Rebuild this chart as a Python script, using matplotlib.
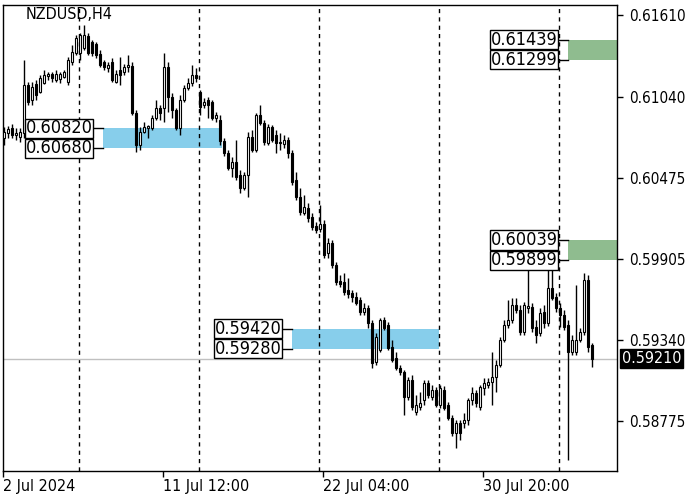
import numpy as np
import matplotlib.pyplot as plt
from matplotlib.patches import Rectangle
import matplotlib.transforms as mtransforms

plt.rcParams['font.family'] = ['DejaVu Sans']
plt.rcParams['font.stretch'] = 'condensed'

symbol = 'NZDUSD,H4'

# H4 candles (oldest first)
opens = [0.60751, 0.60786, 0.60821, 0.60772, 0.60758, 0.60786, 0.61121, 0.61017, 0.61128, 0.61073,
         0.61135, 0.61184, 0.61198, 0.61156, 0.61163, 0.61177, 0.61142, 0.61282, 0.61345, 0.61345,
         0.61380, 0.61464, 0.61422, 0.61408, 0.61338, 0.61282, 0.61240, 0.61282, 0.61142, 0.61226,
         0.61212, 0.61247, 0.61254, 0.60926, 0.60702, 0.60793, 0.60821, 0.60821, 0.60891, 0.60961,
         0.60961, 0.61247, 0.61038, 0.60947, 0.60821, 0.61017, 0.61100, 0.61135, 0.61191, 0.61073,
         0.60982, 0.61017, 0.61003, 0.60891, 0.60877, 0.60730, 0.60647, 0.60542, 0.60584, 0.60493,
         0.60402, 0.60493, 0.60758, 0.60668, 0.60912, 0.60856, 0.60716, 0.60828, 0.60772, 0.60723,
         0.60709, 0.60737, 0.60647, 0.60458, 0.60339, 0.60228, 0.60263, 0.60200, 0.60137, 0.60116,
         0.60151, 0.59948, 0.60018, 0.59864, 0.59753, 0.59746, 0.59690, 0.59669, 0.59641, 0.59620,
         0.59536, 0.59564, 0.59459, 0.59187, 0.59271, 0.59480, 0.59446, 0.59292, 0.59215, 0.59145,
         0.59117, 0.58943, 0.59062, 0.58838, 0.58873, 0.58922, 0.59041, 0.58943, 0.58992, 0.58887,
         0.58992, 0.58887, 0.58796, 0.58691, 0.58761, 0.58761, 0.58782, 0.58922, 0.58971, 0.58873,
         0.59006, 0.59027, 0.59048, 0.59082, 0.59166, 0.59341, 0.59446, 0.59480, 0.59585, 0.59550,
         0.59397, 0.59564, 0.59571, 0.59432, 0.59390, 0.59536, 0.59459, 0.59704, 0.59641, 0.59564,
         0.59515, 0.59446, 0.59257, 0.59257, 0.59341, 0.59397, 0.59760, 0.59306]
highs = [0.60828, 0.60835, 0.60849, 0.60821, 0.60821, 0.61296, 0.61142, 0.61142, 0.61156, 0.61191,
         0.61226, 0.61212, 0.61212, 0.61226, 0.61212, 0.61226, 0.61317, 0.61401, 0.61471, 0.61485,
         0.61540, 0.61485, 0.61436, 0.61422, 0.61366, 0.61296, 0.61282, 0.61310, 0.61226, 0.61317,
         0.61268, 0.61331, 0.61282, 0.60947, 0.60828, 0.60863, 0.60842, 0.60912, 0.61017, 0.60982,
         0.61345, 0.61282, 0.61066, 0.60961, 0.61052, 0.61121, 0.61170, 0.61261, 0.61240, 0.61087,
         0.61031, 0.61038, 0.61017, 0.60933, 0.60912, 0.60751, 0.60668, 0.60619, 0.60737, 0.60528,
         0.60514, 0.60793, 0.60807, 0.60926, 0.60982, 0.60877, 0.60849, 0.60842, 0.60807, 0.60786,
         0.60772, 0.60758, 0.60668, 0.60514, 0.60402, 0.60353, 0.60297, 0.60228, 0.60165, 0.60283,
         0.60179, 0.60053, 0.60039, 0.59885, 0.59795, 0.59809, 0.59774, 0.59690, 0.59676, 0.59641,
         0.59599, 0.59585, 0.59480, 0.59390, 0.59494, 0.59501, 0.59466, 0.59341, 0.59257, 0.59166,
         0.59131, 0.59082, 0.59096, 0.58957, 0.58978, 0.59062, 0.59062, 0.59027, 0.59013, 0.59027,
         0.59020, 0.58908, 0.58817, 0.58782, 0.58782, 0.58831, 0.58936, 0.59013, 0.58992, 0.59027,
         0.59075, 0.59075, 0.59257, 0.59201, 0.59362, 0.59480, 0.59620, 0.59634, 0.59634, 0.59585,
         0.59606, 0.59885, 0.59599, 0.59480, 0.59564, 0.59585, 0.59864, 0.59878, 0.59669, 0.59599,
         0.59550, 0.59480, 0.59376, 0.59725, 0.59425, 0.59809, 0.59795, 0.59320]
lows = [0.60702, 0.60751, 0.60751, 0.60737, 0.60723, 0.60751, 0.60982, 0.60982, 0.61017, 0.61066,
        0.61128, 0.61156, 0.61142, 0.61142, 0.61135, 0.61170, 0.61121, 0.61261, 0.61331, 0.61296,
        0.61366, 0.61331, 0.61324, 0.61310, 0.61247, 0.61226, 0.61212, 0.61142, 0.61135, 0.61121,
        0.61191, 0.61212, 0.60912, 0.60654, 0.60668, 0.60786, 0.60751, 0.60807, 0.60877, 0.60877,
        0.60863, 0.60933, 0.60891, 0.60807, 0.60772, 0.61003, 0.61087, 0.61114, 0.61142, 0.60912,
        0.60961, 0.60891, 0.60877, 0.60863, 0.60702, 0.60626, 0.60528, 0.60479, 0.60458, 0.60367,
        0.60388, 0.60339, 0.60654, 0.60654, 0.60842, 0.60702, 0.60702, 0.60723, 0.60647, 0.60668,
        0.60681, 0.60612, 0.60423, 0.60318, 0.60214, 0.60214, 0.60165, 0.60109, 0.60088, 0.60095,
        0.59913, 0.59913, 0.59844, 0.59725, 0.59711, 0.59655, 0.59634, 0.59606, 0.59585, 0.59515,
        0.59515, 0.59425, 0.59145, 0.59166, 0.59257, 0.59411, 0.59271, 0.59187, 0.59131, 0.59096,
        0.58817, 0.58922, 0.58852, 0.58817, 0.58852, 0.58887, 0.58936, 0.58922, 0.58873, 0.58866,
        0.58852, 0.58782, 0.58670, 0.58587, 0.58643, 0.58726, 0.58747, 0.58887, 0.58873, 0.58852,
        0.58957, 0.59006, 0.58887, 0.58978, 0.59152, 0.59327, 0.59425, 0.59459, 0.59529, 0.59376,
        0.59376, 0.59529, 0.59397, 0.59320, 0.59369, 0.59425, 0.59439, 0.59620, 0.59536, 0.59432,
        0.59411, 0.58503, 0.59236, 0.59236, 0.59327, 0.59376, 0.59257, 0.59152]
closes = [0.60793, 0.60814, 0.60772, 0.60786, 0.60793, 0.61121, 0.61003, 0.61107, 0.61052, 0.61170,
          0.61191, 0.61198, 0.61170, 0.61198, 0.61198, 0.61212, 0.61296, 0.61352, 0.61450, 0.61471,
          0.61471, 0.61345, 0.61345, 0.61331, 0.61261, 0.61247, 0.61261, 0.61156, 0.61198, 0.61191,
          0.61247, 0.61261, 0.60926, 0.60702, 0.60793, 0.60828, 0.60835, 0.60891, 0.60961, 0.60926,
          0.61247, 0.61038, 0.60947, 0.60821, 0.61017, 0.61100, 0.61135, 0.61191, 0.61170, 0.60968,
          0.61003, 0.60982, 0.60891, 0.60912, 0.60730, 0.60647, 0.60542, 0.60584, 0.60479, 0.60402,
          0.60493, 0.60758, 0.60668, 0.60912, 0.60856, 0.60723, 0.60828, 0.60737, 0.60716, 0.60716,
          0.60737, 0.60647, 0.60444, 0.60339, 0.60235, 0.60270, 0.60193, 0.60130, 0.60109, 0.60151,
          0.59934, 0.60018, 0.59864, 0.59746, 0.59732, 0.59676, 0.59662, 0.59641, 0.59599, 0.59536,
          0.59564, 0.59459, 0.59180, 0.59362, 0.59480, 0.59425, 0.59285, 0.59201, 0.59145, 0.59117,
          0.58943, 0.59062, 0.58873, 0.58887, 0.58901, 0.59041, 0.58957, 0.58992, 0.58887, 0.59006,
          0.58866, 0.58796, 0.58691, 0.58761, 0.58691, 0.58782, 0.58922, 0.58971, 0.58901, 0.59013,
          0.59041, 0.59048, 0.59082, 0.59166, 0.59341, 0.59446, 0.59480, 0.59585, 0.59550, 0.59397,
          0.59585, 0.59578, 0.59425, 0.59376, 0.59529, 0.59459, 0.59704, 0.59634, 0.59564, 0.59515,
          0.59432, 0.59257, 0.59341, 0.59341, 0.59397, 0.59760, 0.59292, 0.59210]

x_labels = ['2 Jul 2024', '11 Jul 12:00', '22 Jul 04:00', '30 Jul 20:00']
x_label_bars = [0, 40, 80, 120]
grid_bars = [19, 49, 79, 109, 139]
price_ticks = [0.61610, 0.61040, 0.60475, 0.59905, 0.59340, 0.58775]

# zones: upper / lower price, bar span, colour
zone_upper = [0.60820, 0.59420, 0.61439, 0.60039]
zone_lower = [0.60680, 0.59280, 0.61299, 0.59899]
zone_start = [24.75, 72.0, 141.0, 141.0]
zone_end = [54.5, 108.75, 154.0, 154.0]
zone_colors = ['#87ceeb', '#87ceeb', '#8fbc8f', '#8fbc8f']

fig = plt.figure(figsize=(7, 5), dpi=100)
ax = fig.add_axes([3/700, 29/500, 614/700, 466/500])

o = np.array(opens)
h = np.array(highs)
l = np.array(lows)
c = np.array(closes)
xs = np.arange(len(c))
up = c >= o

# zones + labels
for top, bot, x0, x1, col in zip(zone_upper, zone_lower, zone_start, zone_end, zone_colors):
    ax.add_patch(Rectangle((x0, bot), x1 - x0, top - bot, facecolor=col, edgecolor='none', zorder=1))
    for p in (top, bot):
        ax.plot([x0 - 2.6, x0], [p, p], color='black', lw=1, zorder=5)
        ax.text(x0 - 2.6, p, f'{p:.5f}', ha='right', va='center', fontsize=13,
                bbox=dict(boxstyle='square,pad=0.03', fc='white', ec='black', lw=1), zorder=6)

for b in grid_bars:
    ax.axvline(b - 0.25, color='black', lw=1, ls=(0, (3, 3)), zorder=2)

ax.axhline(c[-1], color='#c0c0c0', lw=1, zorder=2)

# candles
ax.vlines(xs, l, h, color='black', lw=1, zorder=3)
body_h = np.maximum(np.abs(c - o), 0.00002)
ax.bar(xs, body_h, bottom=np.minimum(o, c), width=0.68,
       color=np.where(up, 'white', 'black'), edgecolor='black', linewidth=0.8, zorder=4)

ax.set_xlim(-0.25, 153.25)
ax.set_ylim(0.58426, 0.61680)

ax.yaxis.tick_right()
ax.set_yticks(price_ticks)
ax.set_yticklabels([f'{p:.5f}' for p in price_ticks])
ax.tick_params(axis='y', direction='out', length=4, width=1, pad=5, labelsize=11)
ax.set_xticks([b - 0.25 for b in x_label_bars])
ax.set_xticklabels(x_labels, ha='left')
ax.tick_params(axis='x', direction='out', length=4, width=1, pad=2, labelsize=11.5)
for s in ax.spines.values():
    s.set_linewidth(1)

# current price tag
trans = mtransforms.blended_transform_factory(ax.transAxes, ax.transData)
ax.text(1.008, c[-1], f'{c[-1]:.5f}', transform=trans, ha='left', va='center',
        color='white', fontsize=11.5, clip_on=False,
        bbox=dict(boxstyle='square,pad=0.12', fc='black', ec='black'), zorder=7)

ax.text(0.037, 0.996, symbol, transform=ax.transAxes, ha='left', va='top', fontsize=11.5)

fig.savefig('out.png', dpi=100)
